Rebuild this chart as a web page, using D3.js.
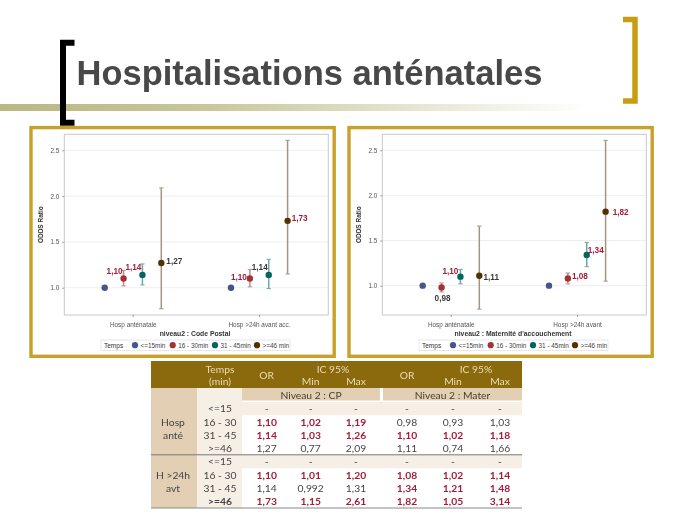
<!DOCTYPE html>
<html>
<head>
<meta charset="utf-8">
<script src="https://d3js.org/d3.v7.min.js"></script>
<style>
    html, body { margin: 0; padding: 0; background: #fff; }
    svg { display: block; filter: blur(0.3px); }
    text { font-family: "Liberation Sans", Arial, sans-serif; }
    .tbl text { font-family: Lato, "Open Sans", sans-serif; }
</style>
</head>
<body>
<svg id="slide" width="689" height="517"></svg>
<script>
const title = "Hospitalisations anténatales";
const temps = ["<=15", "16 - 30", "31 - 45", ">=46"];
const legendLabels = ["<=15min", "16 - 30min", "31 - 45min", ">=46 min"];
const colors = ["#44558f", "#a33235", "#01665e", "#543005"];
const ciColors = ["#44558f", "#c08a8a", "#6fa8a2", "#a39583"];

// left panel
const cpGroups = ["Hosp anténatale", "Hosp >24h avant acc."];
const cpOr = [[1, 1.10, 1.14, 1.27], [1, 1.10, 1.14, 1.73]];
const cpLow = [[null, 1.02, 1.03, 0.77], [null, 1.01, 0.99, 1.15]];
const cpHigh = [[null, 1.19, 1.26, 2.09], [null, 1.20, 1.31, 2.61]];
const cpLabelNudge = [[null, [-9, -7], [-9, -8], [13, -2]], [null, [-11, -1], [-9, -8], [12, -3]]];

// right panel
const materGroups = ["Hosp anténatale", "Hosp >24h avant"];
const materOr = [[1, 0.98, 1.10, 1.11], [1, 1.08, 1.34, 1.82]];
const materLow = [[null, 0.93, 1.02, 0.74], [null, 1.02, 1.21, 1.05]];
const materHigh = [[null, 1.03, 1.18, 1.66], [null, 1.14, 1.48, 2.61]];
const materLabelNudge = [[null, [1, 11], [-10, -5], [12, 1]], [null, [12, -2], [9, -5], [15, 1]]];

const yTicks = [1.0, 1.5, 2.0, 2.5];

// table, as printed
const tableGroups = [["Hosp", "anté"], ["H >24h", "avt"]];
const tableRows = [
    ["-", "-", "-", "-", "-", "-"],
    ["1,10", "1,02", "1,19", "0,98", "0,93", "1,03"],
    ["1,14", "1,03", "1,26", "1,10", "1,02", "1,18"],
    ["1,27", "0,77", "2,09", "1,11", "0,74", "1,66"],
    ["-", "-", "-", "-", "-", "-"],
    ["1,10", "1,01", "1,20", "1,08", "1,02", "1,14"],
    ["1,14", "0,992", "1,31", "1,34", "1,21", "1,48"],
    ["1,73", "1,15", "2,61", "1,82", "1,05", "3,14"]
];

const svg = d3.select("#slide");
const comma = d3.format(".2f");
const redText = "#a31d38";

function drawHeader() {
    const grad = svg.append("defs").append("linearGradient").attr("id", "rule");
    grad.append("stop").attr("offset", "0%").attr("stop-color", "#b9b782");
    grad.append("stop").attr("offset", "35%").attr("stop-color", "#c8c79b");
    grad.append("stop").attr("offset", "100%").attr("stop-color", "#ffffff");
    svg.append("rect").attr("x", 0).attr("y", 104).attr("width", 590).attr("height", 7).attr("fill", "url(#rule)");

    svg.append("path").attr("d", "M74.5,42.8H63V122.8H74.5").attr("fill", "none").attr("stroke", "#000").attr("stroke-width", 6);
    svg.append("path").attr("d", "M623,19.5H635V101H623").attr("fill", "none").attr("stroke", "#c99d12").attr("stroke-width", 5.5);

    svg.append("text").attr("x", 76.5).attr("y", 85).attr("font-size", 34.5).attr("font-weight", "bold")
        .attr("fill", "#484848").text(title);
}

function drawPanel(opts) {
    const g = svg.append("g").attr("transform", `translate(${opts.dx},0)`);
    const left = 64.3, right = 328.3, top = 134.3, bottom = 315;

    g.append("rect").attr("x", 31).attr("y", 127.6).attr("width", 303.2).attr("height", 228.7)
        .attr("fill", "#fff").attr("stroke", "#c9a02c").attr("stroke-width", 3.4);

    const y = d3.scaleLinear().domain(opts.yDomain).range([bottom, top]);
    const x = d3.scalePoint().domain(opts.groups).range([132.7, 259]);
    const inner = d3.scalePoint().domain(temps).range([-28, 28.6]);

    g.append("g").selectAll("line").data(yTicks).join("line")
        .attr("x1", left).attr("x2", right)
        .attr("y1", d => y(d)).attr("y2", d => y(d))
        .attr("stroke", "#efefef");

    g.append("rect").attr("x", left).attr("y", top).attr("width", right - left).attr("height", bottom - top)
        .attr("fill", "none").attr("stroke", "#c6c8d0");

    const yAxis = g.append("g").attr("transform", `translate(${left},0)`)
        .call(d3.axisLeft(y).tickValues(yTicks).tickFormat(d3.format(".1f")).tickSize(2));
    const xAxis = g.append("g").attr("transform", `translate(0,${bottom})`)
        .call(d3.axisBottom(x).tickSize(2));
    [yAxis, xAxis].forEach(a => {
        a.select(".domain").remove();
        a.selectAll("line").attr("stroke", "#999");
        a.selectAll("text").attr("font-size", 6.4).attr("fill", "#555").attr("font-family", '"Liberation Sans", Arial, sans-serif');
    });
    xAxis.selectAll("text").attr("dy", 7);

    g.append("text").attr("transform", `translate(43,${(top + bottom) / 2}) rotate(-90)`)
        .attr("text-anchor", "middle").attr("font-size", 6.5).attr("font-weight", "bold").attr("fill", "#333")
        .text("ODDS Ratio");
    g.append("text").attr("x", opts.xTitleX).attr("y", 335.5).attr("text-anchor", "middle")
        .attr("font-size", 6.8).attr("font-weight", "bold").attr("fill", "#333").text(opts.xTitle);

    opts.groups.forEach((grp, i) => {
        const marks = g.append("g").attr("transform", `translate(${x(grp)},0)`);
        temps.forEach((t, j) => {
            const px = inner(t);
            if (opts.low[i][j] !== null) {
                const c = ciColors[j];
                marks.append("line").attr("x1", px).attr("x2", px)
                    .attr("y1", y(opts.low[i][j])).attr("y2", y(opts.high[i][j]))
                    .attr("stroke", c).attr("stroke-width", 1.5);
                [opts.low[i][j], opts.high[i][j]].forEach(v => {
                    marks.append("line").attr("x1", px - 2.2).attr("x2", px + 2.2)
                        .attr("y1", y(v)).attr("y2", y(v)).attr("stroke", c).attr("stroke-width", 1);
                });
            }
            marks.append("circle").attr("cx", px).attr("cy", y(opts.or[i][j])).attr("r", 3.2).attr("fill", colors[j]);
            const nudge = opts.nudge[i][j];
            if (nudge) {
                const signif = opts.low[i][j] > 1 || opts.high[i][j] < 1;
                marks.append("text").attr("x", px + nudge[0]).attr("y", y(opts.or[i][j]) + nudge[1] + 2.8)
                    .attr("text-anchor", "middle").attr("font-size", 8.2).attr("font-weight", "bold")
                    .attr("fill", signif ? redText : "#3a3a3a")
                    .text(comma(opts.or[i][j]).replace(".", ","));
            }
        });
    });

    // legend
    const legend = g.append("g");
    legend.append("rect").attr("x", 101).attr("y", 340).attr("width", 189).attr("height", 10.5)
        .attr("fill", "#fff").attr("stroke", "#d8d8dc").attr("stroke-width", 0.6);
    legend.append("text").attr("x", 104).attr("y", 347.6).attr("font-size", 6.5).attr("fill", "#333").text("Temps");
    const legendX = d3.scaleOrdinal().domain(legendLabels).range([135, 172.7, 215, 257]);
    legendLabels.forEach((l, j) => {
        legend.append("circle").attr("cx", legendX(l)).attr("cy", 345.2).attr("r", 3.1).attr("fill", colors[j]);
        legend.append("text").attr("x", legendX(l) + 5.5).attr("y", 347.5).attr("font-size", 6.4).attr("fill", "#444").text(l);
    });
}

function drawTable() {
    const g = svg.append("g").attr("class", "tbl");
    const x0 = 151, x1 = 522;
    const rowY = d3.scaleBand().domain(d3.range(tableRows.length)).range([402, 508]).paddingInner(0);
    const colX = d3.scaleOrdinal().domain(d3.range(6)).range([266.7, 310.7, 356, 407, 453, 500]);
    const tan = "#e2cfb4", light = "#f6efe6", brown = "#8a6a0c";
    const fontSize = 10.3;

    g.append("rect").attr("x", x0).attr("y", 361).attr("width", x1 - x0).attr("height", 27).attr("fill", brown);
    g.append("rect").attr("x", x0).attr("y", 388).attr("width", 46).attr("height", 120).attr("fill", tan);
    g.append("rect").attr("x", 197).attr("y", 388).attr("width", 45).attr("height", 120).attr("fill", light);
    g.append("rect").attr("x", 242).attr("y", 388).attr("width", 138).attr("height", 12.5).attr("fill", tan);
    g.append("rect").attr("x", 383).attr("y", 388).attr("width", 139).attr("height", 12.5).attr("fill", tan);
    [0, 4].forEach(r => {
        g.append("rect").attr("x", 242).attr("y", rowY(r)).attr("width", x1 - 242).attr("height", rowY.bandwidth())
            .attr("fill", light);
    });

    g.append("line").attr("x1", x0).attr("x2", x1).attr("y1", 454.8).attr("y2", 454.8).attr("stroke", "#777");
    g.append("line").attr("x1", x0).attr("x2", x1).attr("y1", 508).attr("y2", 508).attr("stroke", "#888");

    const head = (x, y, t, fill) => g.append("text").attr("x", x).attr("y", y).attr("text-anchor", "middle")
        .attr("font-size", fontSize).attr("fill", fill || "#eadcb4").text(t);
    head(220, 372.5, "Temps");
    head(220, 385, "(min)");
    head(266.7, 378.5, "OR");
    head(333, 372.5, "IC 95%");
    head(310.7, 385, "Min");
    head(356, 385, "Max");
    head(407, 378.5, "OR");
    head(476, 372.5, "IC 95%");
    head(453, 385, "Min");
    head(500, 385, "Max");
    head(311, 398.5, "Niveau 2 : CP", "#4a4030");
    head(452.5, 398.5, "Niveau 2 : Mater", "#4a4030");

    tableGroups.forEach((lines, i) => {
        lines.forEach((t, k) => head(173, 426 + k * 13 + i * 52.5, t, "#444"));
    });

    tableRows.forEach((row, r) => {
        const cy = rowY(r) + rowY.bandwidth() / 2 + 3.7;
        const temp = temps[r % 4];
        g.append("text").attr("x", 220).attr("y", cy).attr("text-anchor", "middle").attr("font-size", fontSize)
            .attr("fill", "#444").attr("font-weight", r === 7 ? "bold" : null).text(temp);
        row.forEach((cell, c) => {
            const start = c - c % 3;
            const lo = parseFloat((row[start + 1] || "").replace(",", "."));
            const hi = parseFloat((row[start + 2] || "").replace(",", "."));
            const signif = lo > 1 || hi < 1;
            g.append("text").attr("x", colX(c)).attr("y", cy).attr("text-anchor", "middle").attr("font-size", fontSize)
                .attr("font-weight", signif ? "bold" : null)
                .attr("fill", signif ? redText : "#444").text(cell);
        });
    });
}

drawHeader();
drawPanel({
    dx: 0, groups: cpGroups, or: cpOr, low: cpLow, high: cpHigh, nudge: cpLabelNudge,
    yDomain: [0.702, 2.675], xTitle: "niveau2 : Code Postal", xTitleX: 195
});
drawPanel({
    dx: 318, groups: materGroups, or: materOr, low: materLow, high: materHigh, nudge: materLabelNudge,
    yDomain: [0.675, 2.677], xTitle: "niveau2 : Maternité d'accouchement", xTitleX: 195
});
drawTable();
</script>
</body>
</html>
